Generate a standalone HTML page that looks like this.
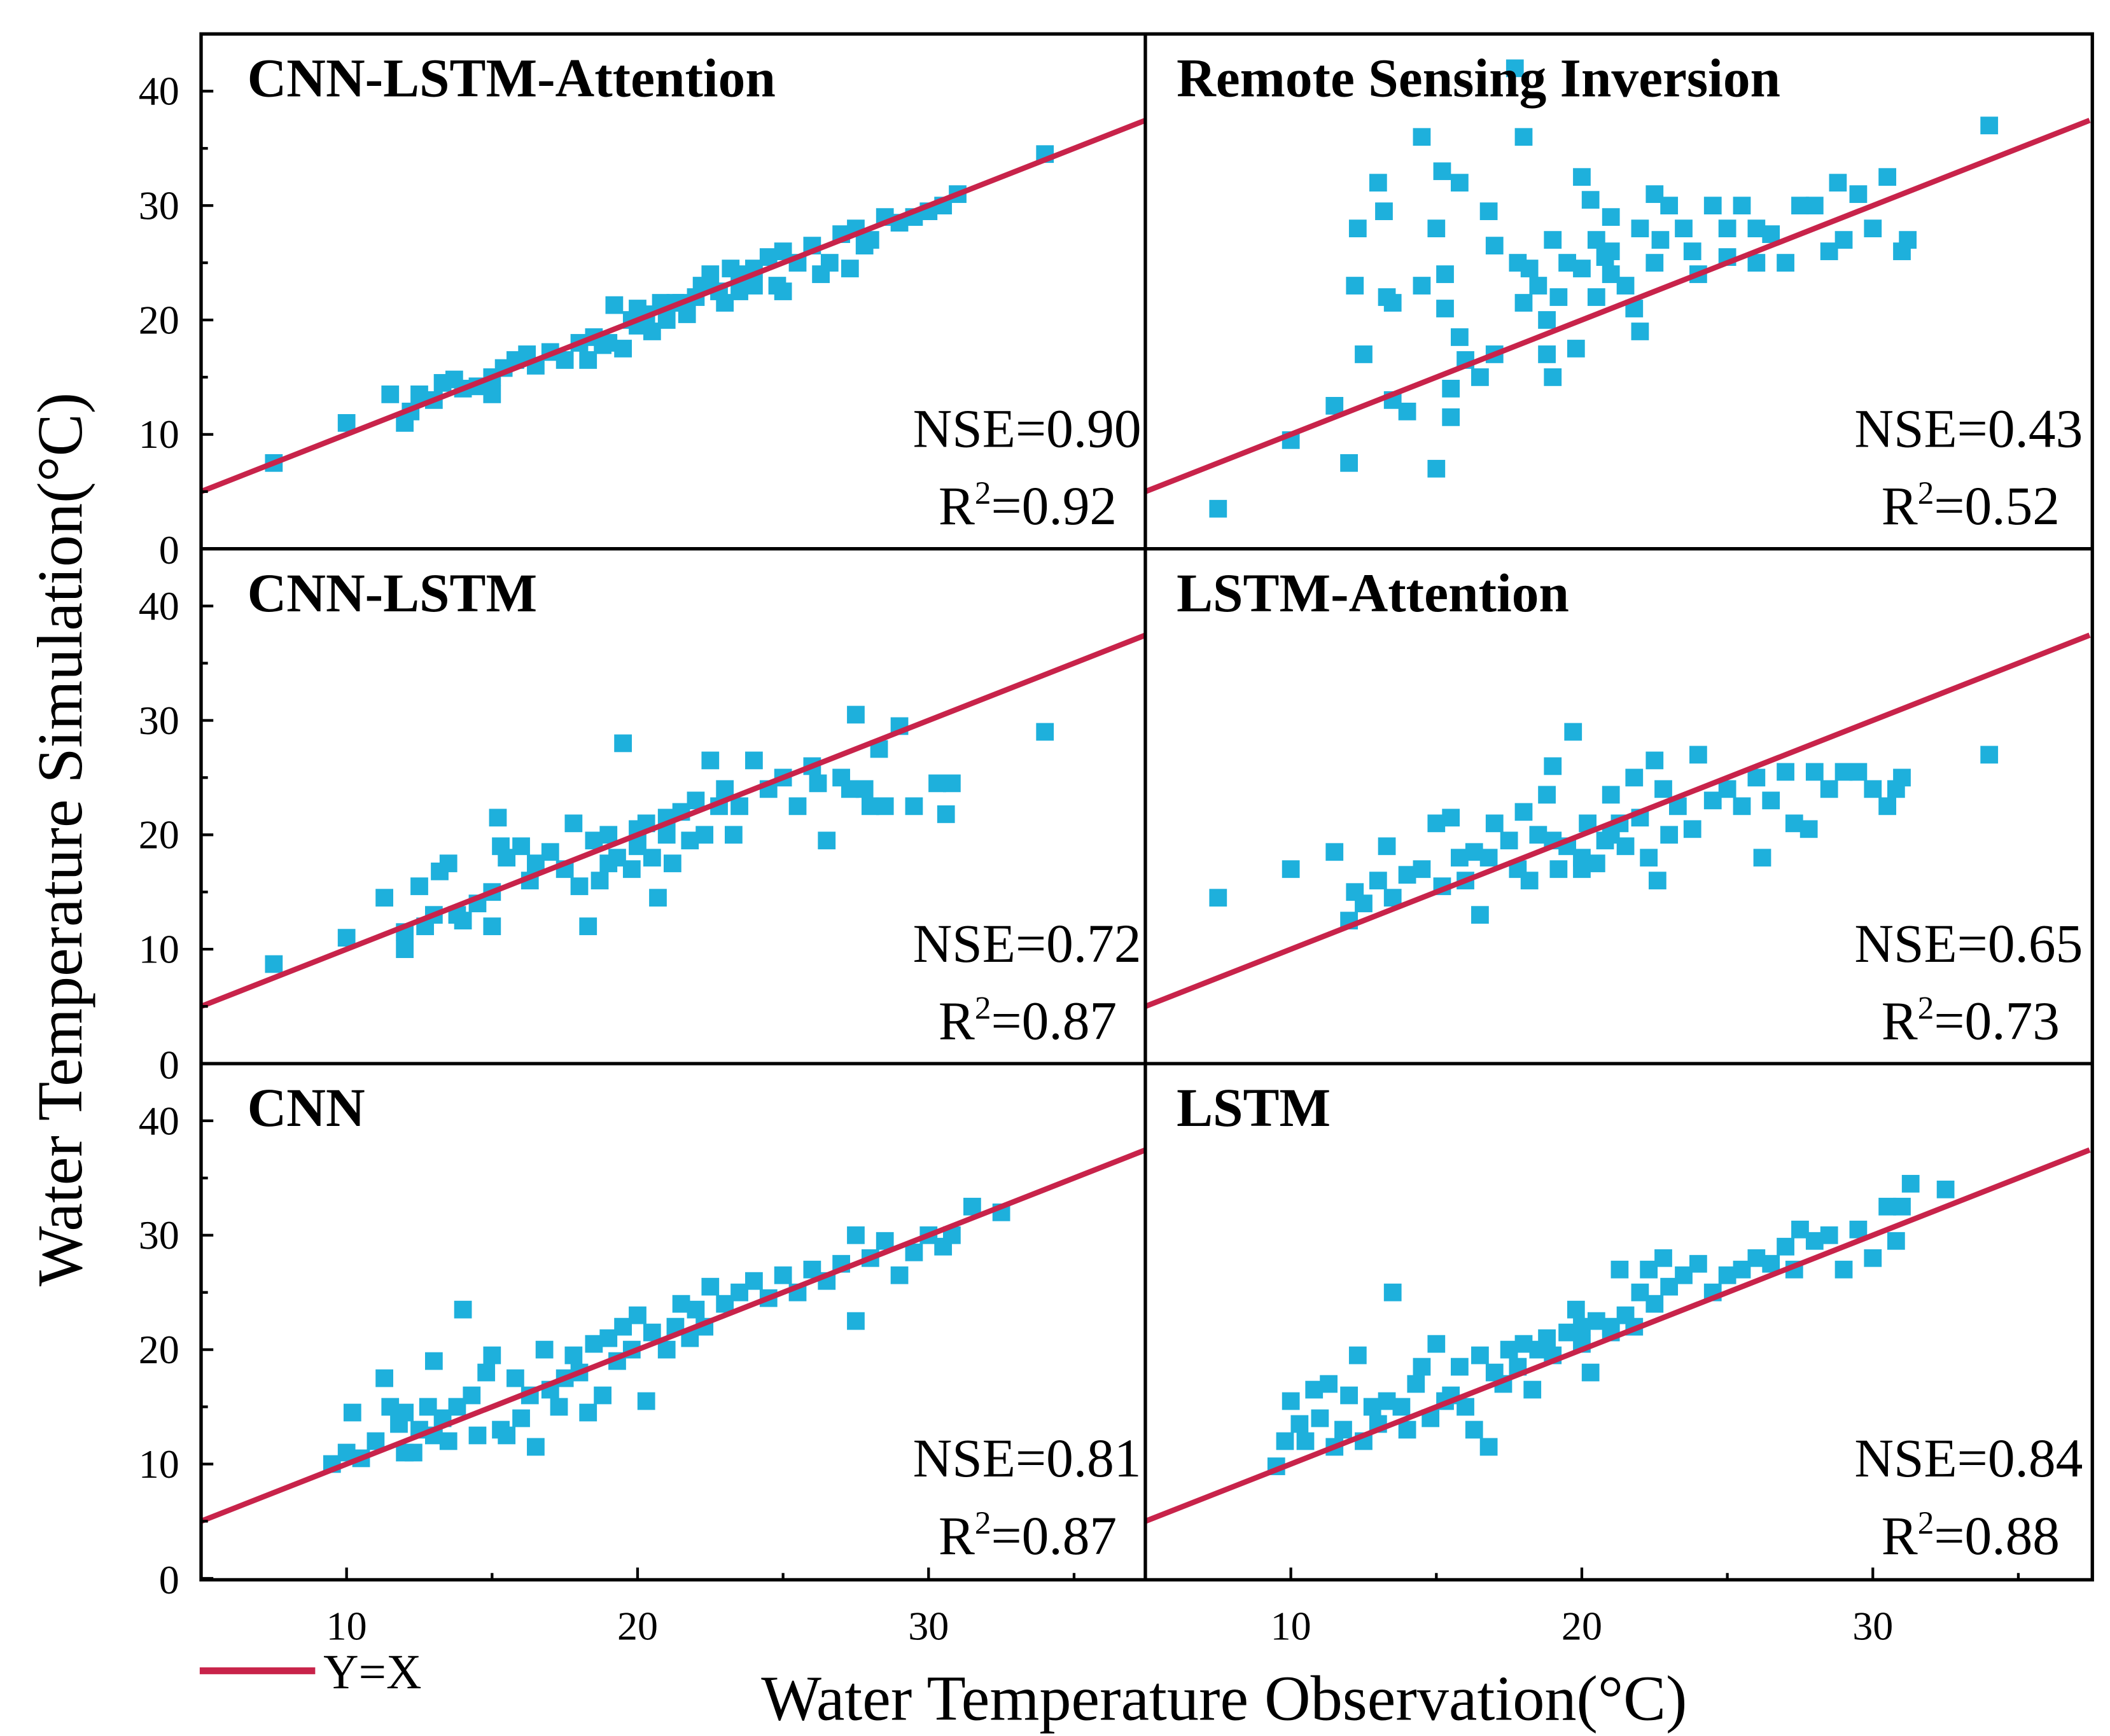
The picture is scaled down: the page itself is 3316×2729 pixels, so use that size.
<!DOCTYPE html>
<html><head><meta charset="utf-8">
<style>
html,body{margin:0;padding:0;background:#fff;}
svg{display:block;}
text{font-family:"Liberation Serif",serif;fill:#000;}
</style></head>
<body>
<svg id="chart" width="3316" height="2729" viewBox="0 0 1553 1278" preserveAspectRatio="none" xmlns="http://www.w3.org/2000/svg"></svg>
<script>
// ---- data ----
const panelTitles = ["CNN-LSTM-Attention","Remote Sensing Inversion","CNN-LSTM","LSTM-Attention","CNN","LSTM"];
const nseValues = ["0.90","0.43","0.72","0.65","0.81","0.84"];
const r2Values = ["0.92","0.52","0.87","0.73","0.87","0.88"];
const yTicks = [0,10,20,30,40];
const xTicks = [10,20,30];
const p1 = [[7.5,7.5],[10,11],[11.5,13.5],[12,11],[12.2,12],[12.5,13.5],[13,13],[13.3,14.5],[13.7,14.8],[14,14],[14.5,14.2],[15,13.5],[15,15],[15.4,15.8],[15.8,16.5],[16.2,17],[16.5,16],[17,17.2],[17.5,16.5],[18,18],[18.3,16.5],[18.5,18.5],[18.8,17.8],[19,18],[19.2,21.3],[19.5,17.5],[19.8,20],[20,19.5],[20.3,20.5],[20.5,19],[20.8,21.5],[21,20],[21.3,21.5],[21.7,20.5],[22,22],[22.2,23],[22.5,24],[22.8,22.5],[23,21.5],[23.2,24.5],[23.5,22.5],[24,23],[24.5,25.5],[24.8,23],[25,26],[25.5,25],[26,26.5],[26.3,24],[26.6,25],[27,27.5],[27.3,24.5],[27.5,28],[27.8,26.5],[28,27],[28.5,29],[29,28.5],[29.5,29],[30,29.5],[30.5,30],[31,31],[34,34.5],[23.5,24],[21.5,21.5],[20,21],[24,24.5],[25,22.5]];
const p2 = [[7.5,3.5],[10,9.5],[11.5,12.5],[12,7.5],[12.2,23],[12.3,28],[12.5,17],[13,32],[13.2,29.5],[13.3,22],[13.5,21.5],[13.5,13],[14,12],[14.5,36],[14.5,23],[15,7],[15,28],[15.2,33],[15.3,21],[15.3,24],[15.5,11.5],[15.5,14],[15.8,32],[15.8,18.5],[16,16.5],[16.5,15],[16.8,29.5],[17,26.5],[17,17],[17.7,42],[17.8,25],[18,36],[18,21.5],[18.2,24.5],[18.5,23],[18.8,20],[18.8,17],[19,15],[19,27],[19.2,22],[19.5,25],[19.8,17.5],[20,32.5],[20,24.5],[20.3,30.5],[20.5,27],[20.8,25.5],[21,29],[21,26],[21.5,23],[21.8,21],[22,28],[22,19],[22.5,31],[22.7,27],[23,30],[23.5,28],[23.8,26],[24,24],[24.5,30],[25,28],[25,25.5],[25.5,30],[26,25],[26,28],[26.5,27.5],[27,25],[27.5,30],[28,30],[28.5,26],[28.8,32],[29,27],[29.5,31],[30,28],[30.5,32.5],[31,26],[31.2,27],[34,37],[22.5,25],[21,24],[20.5,22]];
const p3 = [[7.5,8.7],[10,11],[11.3,14.5],[12,10],[12,11.5],[12.5,15.5],[12.7,12],[13,13],[13.2,16.8],[13.5,17.5],[13.8,13],[14,12.5],[14.5,14],[15,12],[15,15],[15.2,21.5],[15.3,19],[15.5,18],[16,19],[16.3,16],[16.5,17.5],[17,18.5],[17.5,17],[17.8,21],[18,15.5],[18.3,12],[18.5,19.5],[18.7,16],[19,20],[19.3,18],[19.5,28],[19.8,17],[20,19],[20.3,21],[20.5,18],[20.7,14.5],[21,20],[21.2,17.5],[21.5,22],[21.8,19.5],[22,23],[22.3,20],[22.5,26.5],[22.8,22.5],[23,24],[23.3,20],[23.5,22.5],[24,26.5],[24.5,24],[25,25],[25.5,22.5],[26,26],[26.2,24.5],[26.5,19.5],[27,25],[27.3,24],[27.5,30.5],[27.8,24],[28,22.5],[28.3,27.5],[28.5,22.5],[29,29.5],[29.5,22.5],[30.3,24.5],[30.6,21.8],[30.8,24.5],[34,29],[19,17.5],[20,20.5],[21,21.5]];
const p4 = [[7.5,14.5],[10,17],[11.5,18.5],[12,12.5],[12.2,15],[12.5,14],[13,16],[13.3,19],[13.5,14.5],[14,16.5],[14.5,17],[15,21],[15.2,15.5],[15.5,21.5],[15.8,18],[16,16],[16.3,18.5],[16.5,13],[16.8,18],[17,21],[17.5,19.5],[17.8,17],[18,22],[18.2,16],[18.5,20],[18.8,23.5],[19,26],[19.2,17],[19.5,19],[19.7,29],[20,18],[20.2,21],[20.5,17.5],[20.8,19.5],[21,23.5],[21.3,21],[21.5,19],[21.8,25],[22,21.5],[22.3,18],[22.5,26.5],[22.6,16],[22.8,24],[23,20],[23.3,22.5],[23.8,20.5],[24,27],[24.5,23],[25,24],[25.5,22.5],[26,25],[26.2,18],[26.5,23],[27,25.5],[27.3,21],[27.8,20.5],[28,25.5],[28.5,24],[29,25.5],[29.5,25.5],[30,24],[30.5,22.5],[30.8,24],[31,25],[34,27],[20,17],[21,20],[19,19.5]];
const p5 = [[9.5,10],[10,11],[10.2,14.5],[10.5,10.5],[11,12],[11.3,17.5],[11.5,15],[11.8,13.5],[12,14.5],[12.3,11],[12.5,13],[12.8,15],[13,19],[13.3,14],[13.5,12],[13.8,15],[14,23.5],[14.3,16],[14.5,12.5],[14.8,18],[15,19.5],[15.3,13],[15.5,12.5],[15.8,17.5],[16,14],[16.3,16],[16.5,11.5],[16.8,20],[17,16.5],[17.3,15],[17.5,17.5],[17.8,19.5],[18,18],[18.3,14.5],[18.5,20.5],[18.8,16],[19,21],[19.3,19],[19.5,22],[19.8,20],[20,23],[20.3,15.5],[20.5,21.5],[21,20],[21.3,22],[21.5,24],[21.8,21],[22,23.5],[22.3,22],[22.5,25.5],[23,24],[23.5,25],[24,26],[24.5,24.5],[25,26.5],[25.5,25],[26,27],[26.5,26],[27,27.5],[27.5,30],[27.5,22.5],[28,28],[28.5,29.5],[29,26.5],[29.5,28.5],[30,30],[30.5,29],[30.8,30],[31.5,32.5],[32.5,32],[12,11],[13,12.5]];
const p6 = [[9.5,9.8],[9.8,12],[10,15.5],[10.3,13.5],[10.5,12],[10.8,16.5],[11,14],[11.3,17],[11.5,11.5],[11.8,13],[12,16],[12.3,19.5],[12.5,12],[12.8,15],[13,13.5],[13.3,15.5],[13.5,25],[13.8,15],[14,13],[14.3,17],[14.5,18.5],[14.8,14],[15,20.5],[15.3,15.5],[15.5,16],[15.8,18.5],[16,15],[16.3,13],[16.5,19.5],[16.8,11.5],[17,18],[17.3,17],[17.5,20],[17.8,18.5],[18,20.5],[18.3,16.5],[18.5,20],[18.8,21],[19,19.5],[19.5,21.5],[19.8,23.5],[20,22],[20.3,18],[20.5,22.5],[21,21.5],[21.3,27],[21.5,23],[21.8,22],[22,25],[22.3,27],[22.5,24],[22.8,28],[23,25.5],[23.5,26.5],[24,27.5],[24.5,25],[25,26.5],[25.5,27],[26,28],[26.5,27.5],[27,29],[27.3,27],[27.5,30.5],[28,29.5],[28.5,30],[29,27],[29.5,30.5],[30,28],[30.5,32.5],[30.8,29.5],[31,32.5],[31.3,34.5],[32.5,34],[20,20.5],[21,22]];
const panelData = [p1,p2,p3,p4,p5,p6];

// ---- layout ----
const NS="http://www.w3.org/2000/svg";
const svg=document.getElementById('chart');
const colX=[148,843], rowY=[25,404,783], PW=695, PH=379;
const XMIN=5, XMAX=37.45, YMIN=0, YMAX=45;
function mk(tag,attrs,parent){const e=document.createElementNS(NS,tag);for(const k in attrs)e.setAttribute(k,attrs[k]);(parent||svg).appendChild(e);return e;}
function sx(c,v){return colX[c]+(v-XMIN)/(XMAX-XMIN)*PW;}
function sy(r,v){return rowY[r]+PH-(v-YMIN)/(YMAX-YMIN)*PH;}

for(let i=0;i<6;i++){
  const c=i%2, r=Math.floor(i/2);
  const g=mk('g',{});
  
  
  const pts=mk('g',{fill:'#1eb0dc'},g);
  
  
  panelData[i].forEach(d=>{
    const px=sx(c,d[0]), py=sy(r,d[1]);
    if(py<rowY[r]-8) return;
    const s=mk('rect',{x:px-6.5,y:py-6.5,width:13,height:13},pts);
    
    
  });
  const ln=mk('line',{x1:sx(c,XMIN),y1:sy(r,XMIN),x2:sx(c,XMAX),y2:sy(r,XMAX),stroke:'#c8234a','stroke-width':4},g);
  
  
  const t=mk('text',{x:colX[c]+(c?23:34),y:rowY[r]+46,'font-size':40,'font-weight':'bold'},g);
  t.textContent=panelTitles[i];
  
  
  const n=mk('text',{x:colX[c]+PW-(c?5:3),y:rowY[r]+304,'font-size':40,'text-anchor':'end'},g);
  n.textContent='NSE='+nseValues[i];
  
  
  const q=mk('text',{x:colX[c]+PW-(c?22:21),y:rowY[r]+361,'font-size':40,'text-anchor':'end'},g);
  q.innerHTML='R<tspan dy="-15" font-size="24">2</tspan><tspan dy="15">='+r2Values[i]+'</tspan>';
  
  
  if(c===0){
    for(let v=0;v<=45;v+=5){
      const y=sy(r,v), len=(v%10===0)?9:5;
      const tk=mk('line',{x1:148,y1:y,x2:148+len,y2:y,stroke:'#000','stroke-width':2},g);
      
      
    }
    yTicks.forEach(v=>{
      const tl=mk('text',{x:132,y:sy(r,v)+(v===0?11:10),'font-size':30,'text-anchor':'end'},g);
      tl.textContent=v;
      
      
    });
  }
  if(r===2){
    for(let v=5;v<=37;v+=5){
      const x=sx(c,v), len=(v%10===0)?9:5;
      const tk=mk('line',{x1:x,y1:1163,x2:x,y2:1163-len,stroke:'#000','stroke-width':2},g);
      
      
    }
    xTicks.forEach(v=>{
      const tl=mk('text',{x:sx(c,v),y:1207,'font-size':30,'text-anchor':'middle'},g);
      tl.textContent=v;
      
      
    });
  }
}
const fr=mk('g',{stroke:'#000','stroke-width':2.5,fill:'none'});


mk('rect',{x:148,y:25,width:1392,height:1138},fr);
mk('line',{x1:843,y1:25,x2:843,y2:1163},fr);
mk('line',{x1:148,y1:404,x2:1540,y2:404},fr);
mk('line',{x1:148,y1:783,x2:1540,y2:783},fr);
const yt=mk('text',{x:0,y:0,'font-size':47,'text-anchor':'middle',transform:'translate(60,618) rotate(-90)'});
yt.textContent='Water Temperature Simulation(°C)';


const xt=mk('text',{x:901,y:1266,'font-size':47,'text-anchor':'middle'});
xt.textContent='Water Temperature Observation(°C)';


const lg=mk('g',{});


mk('line',{x1:147,y1:1230,x2:232,y2:1230,stroke:'#c8234a','stroke-width':5},lg);
const lt=mk('text',{x:238,y:1243,'font-size':36},lg);
lt.textContent='Y=X';
</script>
</body></html>
